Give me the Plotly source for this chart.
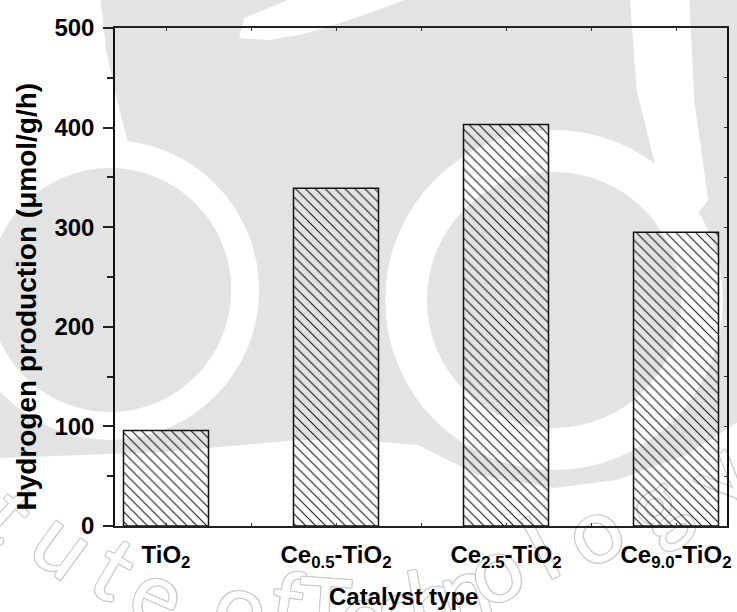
import plotly.graph_objects as go

# ---- data -------------------------------------------------------------
catalysts = [
    "TiO<sub>2</sub>",
    "Ce<sub>0.5</sub>-TiO<sub>2</sub>",
    "Ce<sub>2.5</sub>-TiO<sub>2</sub>",
    "Ce<sub>9.0</sub>-TiO<sub>2</sub>",
]
h2_rate = [96, 339, 403, 295]          # µmol/g/h
y_ticks = [0, 100, 200, 300, 400, 500]

# ---- page geometry (pixels) ------------------------------------------
W, H = 737, 612
L, R, T, B = 115, 731, 28, 526          # plot area edges

def px(x):
    return (x - L) / (R - L)

def py(y):
    return (B - y) / (B - T)

GREY = "#e3e3e3"
WHITE = "#ffffff"

def poly(points, color):
    d = "M " + " L ".join(f"{px(x):.4f},{py(y):.4f}" for x, y in points) + " Z"
    return dict(type="path", path=d, xref="paper", yref="paper",
                fillcolor=color, line=dict(width=0), layer="below")

def disc(cx, cy, r, color):
    return dict(type="circle", xref="paper", yref="paper",
                x0=px(cx - r), x1=px(cx + r), y0=py(cy + r), y1=py(cy - r),
                fillcolor=color, line=dict(width=0), layer="below")

# background emblem
emblem = [
    poly([(100, -5), (745, -5), (745, 420), (690, 455), (620, 480), (557, 488),
          (480, 475), (420, 445), (360, 440), (300, 440), (165, 452), (0, 458),
          (-5, 458), (-5, 245), (130, 150), (117, 100), (106, 50)], GREY),
    poly([(633, -5), (693, -5), (698, 100), (712, 200), (700, 215), (660, 170),
          (640, 90)], WHITE),
    poly([(240, 38), (270, 40), (305, 34), (345, 22), (385, 8), (420, -5),
          (300, -5), (275, 6), (245, 18)], WHITE),
    disc(110, 290, 150, WHITE),
    disc(110, 290, 122, GREY),
    disc(557, 300, 170, WHITE),
    disc(557, 300, 128, GREY),
]

# curved outline lettering around the emblem (kept beneath the axes)
letters = [
    ("t", 12, 510, 42), ("u", 66, 540, 36), ("t", 116, 565, 30), ("e", 160, 590, 24),
    ("o", 243, 602, 14), ("f", 288, 600, 9), ("T", 326, 607, 4),
    ("e", 366, 610, 0), ("c", 400, 606, -5), ("h", 434, 598, -10),
    ("n", 466, 586, -16), ("o", 496, 566, -22), ("l", 542, 545, -28),
    ("o", 594, 528, -33), ("g", 656, 503, -39), ("y", 720, 472, -45),
]
EDGE = "#cbcbcb"
outline = ", ".join(f"{dx}px {dy}px 0 {EDGE}" for dx, dy in
                    [(1, 1), (-1, -1), (1, -1), (-1, 1), (1, 0), (-1, 0), (0, 1), (0, -1)])
lettering = [
    dict(type="rect", xref="paper", yref="paper",
         x0=px(x - 1), x1=px(x + 1), y0=py(y + 1), y1=py(y - 1),
         line=dict(width=0), fillcolor="rgba(0,0,0,0)", layer="below",
         label=dict(text=ch, textangle=a, textposition="middle center",
                    font=dict(family="Lato", size=90, color="#ffffff", shadow=outline)))
    for ch, x, y, a in letters
]

BOLD = "Liberation Sans, Arial, sans-serif"
axis_font = dict(family=BOLD, size=24, color="black", weight="bold")

# axis titles, placed as free labels
y_title = dict(text="Hydrogen production (\u03bcmol/g/h)", x=px(25), y=py(297),
               xref="paper", yref="paper", showarrow=False, textangle=-90,
               xanchor="center", yanchor="middle",
               font=dict(family=BOLD, size=28, color="black", weight="bold"))
x_title = dict(text="Catalyst type", x=px(405), y=py(596),
               xref="paper", yref="paper", showarrow=False,
               xanchor="center", yanchor="middle", font=axis_font)

# ---- figure -----------------------------------------------------------
fig = go.Figure()
fig.add_trace(go.Bar(
    x=catalysts, y=h2_rate, width=0.5,
    marker=dict(color="rgba(0,0,0,0)",
                line=dict(color="#111111", width=1.5),
                pattern=dict(shape="\\", fgcolor="#111111", bgcolor="rgba(0,0,0,0)",
                             size=7, solidity=0.15, fillmode="replace")),
    hoverinfo="skip", showlegend=False,
))
# carrier for the secondary (tick-only) axes
fig.add_trace(go.Scatter(
    x=list(range(len(catalysts))), y=h2_rate, xaxis="x2", yaxis="y2",
    mode="markers", marker=dict(opacity=0), hoverinfo="skip", showlegend=False,
))

fig.update_layout(
    width=W, height=H,
    margin=dict(l=L, r=W - R, t=T, b=H - B),
    paper_bgcolor="white", plot_bgcolor="rgba(0,0,0,0)",
    font=dict(family=BOLD, color="black"),
    shapes=emblem + lettering,
    annotations=[y_title, x_title],
    showlegend=False,
    xaxis=dict(
        type="category", range=[-0.3, 3.3],
        showline=True, linecolor="#222222", linewidth=1.5, mirror=True,
        ticks="", showgrid=False, zeroline=False,
        tickfont=axis_font, ticklabelstandoff=6,
    ),
    yaxis=dict(
        range=[0, 500], tickvals=y_ticks,
        showline=True, linecolor="#111111", linewidth=1.5, mirror=True,
        ticks="outside", ticklen=10, tickwidth=1.5, tickcolor="#222222",
        minor=dict(dtick=50, ticks="outside", ticklen=6, tickwidth=1.5, tickcolor="#222222"),
        showgrid=False, zeroline=False,
        tickfont=axis_font, ticklabelstandoff=4,
    ),
    xaxis2=dict(
        overlaying="x", anchor="y", side="bottom", type="linear",
        range=[-0.3, 3.3], tick0=0, dtick=0.5,
        ticks="inside", ticklen=3, tickwidth=1, tickcolor="#333333",
        showticklabels=False, showline=False, showgrid=False, zeroline=False,
        mirror="allticks",
    ),
    yaxis2=dict(
        overlaying="y", anchor="x", side="right",
        range=[0, 500], dtick=50,
        ticks="inside", ticklen=3, tickwidth=1, tickcolor="#333333",
        showticklabels=False, showline=False, showgrid=False, zeroline=False,
    ),
)

fig.write_html("out.html")
